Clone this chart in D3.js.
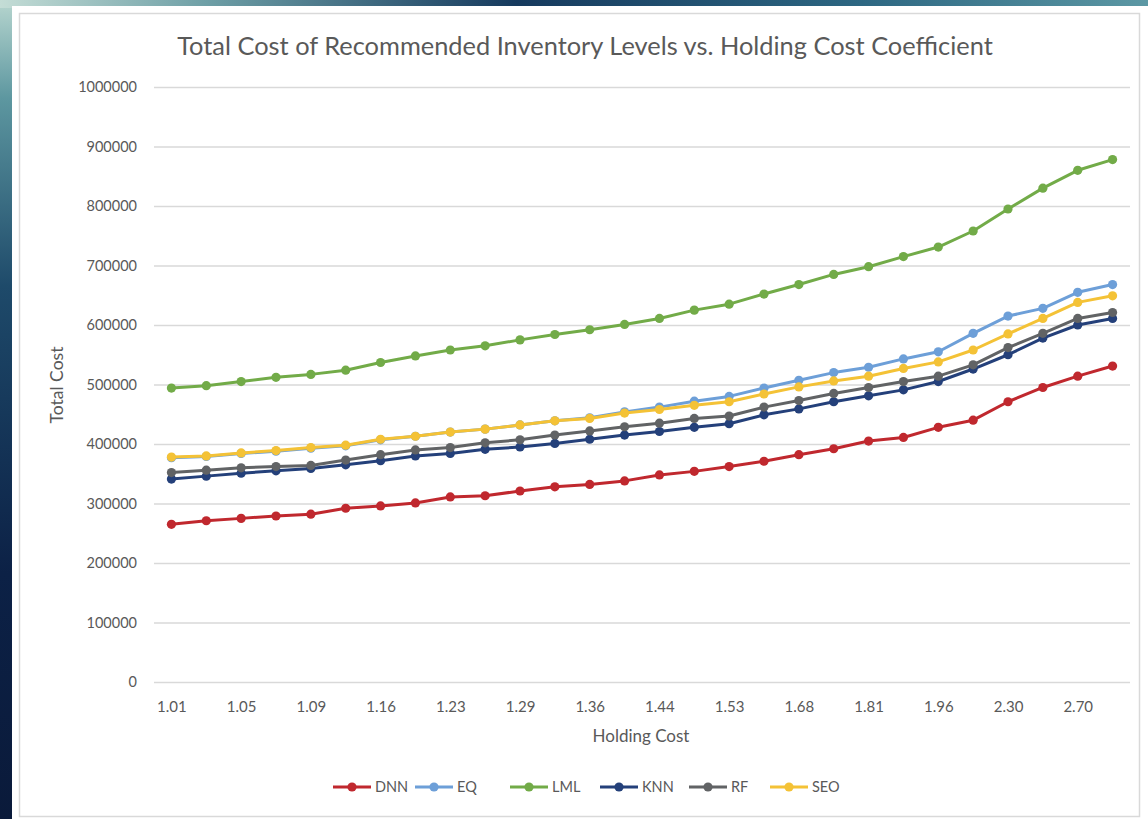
<!DOCTYPE html>
<html>
<head>
<meta charset="utf-8">
<script src="https://cdn.jsdelivr.net/npm/d3@7"></script>
<style>
  html, body { margin: 0; padding: 0; }
  body { width: 1148px; height: 819px; overflow: hidden; background: #0c1f3f; }
  svg { display: block; }
  text { font-family: Lato, "Open Sans", "Liberation Sans", sans-serif; fill: #595959; }
</style>
</head>
<body>
<svg id="chart" width="1148" height="819"></svg>
<script>
// Holding cost coefficients (x categories); only every other one is labelled
const categories = ["1.01","1.03","1.05","1.07","1.09","1.12","1.16","1.19","1.23","1.26",
                    "1.29","1.32","1.36","1.40","1.44","1.48","1.53","1.60","1.68","1.74",
                    "1.81","1.88","1.96","2.11","2.30","2.49","2.70","2.92"];

// Total cost per model
const dnn = [265000,271000,275000,279000,282000,292000,296000,301000,311000,313000,
             321000,328000,332000,338000,348000,354000,362000,371000,382000,392000,
             405000,411000,428000,440000,471000,495000,514000,531000];
const eq  = [377000,379000,384000,388000,393000,397000,407000,413000,420000,425000,
             432000,439000,444000,454000,462000,472000,480000,494000,507000,520000,
             529000,543000,555000,586000,615000,628000,655000,668000];
const lml = [494000,498000,505000,512000,517000,524000,537000,548000,558000,565000,
             575000,584000,592000,601000,611000,625000,635000,652000,668000,685000,
             698000,715000,731000,758000,795000,830000,860000,878000];
const knn = [341000,346000,351000,355000,359000,365000,372000,380000,384000,391000,
             395000,401000,408000,415000,421000,428000,434000,449000,459000,471000,
             481000,491000,505000,526000,550000,578000,600000,611000];
const rf  = [352000,356000,360000,362000,364000,373000,382000,390000,394000,402000,
             407000,415000,422000,429000,435000,443000,447000,462000,473000,485000,
             495000,505000,514000,533000,562000,586000,611000,621000];
const seo = [378000,380000,385000,389000,394000,398000,408000,413000,420000,425000,
             432000,439000,443000,452000,458000,465000,471000,484000,496000,506000,
             514000,527000,538000,558000,585000,611000,638000,649000];

const seriesNames = ["DNN","EQ","LML","KNN","RF","SEO"];
const seriesValues = [dnn, eq, lml, knn, rf, seo];
const yTicks = [0,100000,200000,300000,400000,500000,600000,700000,800000,900000,1000000];

const colors = {
  DNN: "#c0282e", EQ: "#6d9fd8", LML: "#72ab48",
  KNN: "#24407a", RF: "#616365", SEO: "#f4c236"
};

const svg = d3.select("#chart");
const defs = svg.append("defs");

// ---- slide backdrop behind the chart panel ----
const gV = defs.append("linearGradient").attr("id","bgV").attr("x1",0).attr("y1",0).attr("x2",0).attr("y2",1);
gV.append("stop").attr("offset","0%").attr("stop-color","#b7d6cf");
gV.append("stop").attr("offset","12%").attr("stop-color","#5d97a0");
gV.append("stop").attr("offset","35%").attr("stop-color","#1e4a6a");
gV.append("stop").attr("offset","70%").attr("stop-color","#0c2146");
gV.append("stop").attr("offset","100%").attr("stop-color","#0a1a3a");
const gH = defs.append("linearGradient").attr("id","bgH").attr("x1",0).attr("y1",0).attr("x2",1).attr("y2",0);
gH.append("stop").attr("offset","0%").attr("stop-color","#c4ddd6");
gH.append("stop").attr("offset","18%").attr("stop-color","#6e9fa6");
gH.append("stop").attr("offset","45%").attr("stop-color","#163a5e");
gH.append("stop").attr("offset","75%").attr("stop-color","#2d6782");
gH.append("stop").attr("offset","100%").attr("stop-color","#5c98a4");

svg.append("rect").attr("x",0).attr("y",0).attr("width",1148).attr("height",819).attr("fill","url(#bgV)");
svg.append("rect").attr("x",0).attr("y",0).attr("width",1148).attr("height",8).attr("fill","url(#bgH)");

// ---- chart panel ----
svg.append("rect").attr("x",12).attr("y",6).attr("width",1136).attr("height",813).attr("fill","#ffffff");
svg.append("rect").attr("x",19.5).attr("y",13.5).attr("width",1120).attr("height",803)
  .attr("fill","none").attr("stroke","#d9d9d9").attr("stroke-width",1.5);

// ---- scales ----
const plotLeft = 154, plotRight = 1130, plotTop = 87, plotBottom = 682;
const x = d3.scalePoint().domain(categories).range([plotLeft, plotRight]).padding(0.5);
const y = d3.scaleLinear().domain([0, 1000000]).range([plotBottom, plotTop]);

// ---- gridlines + y axis labels ----
const yAxis = d3.axisLeft(y).tickValues(yTicks).tickFormat(d3.format("d"))
  .tickSize(-(plotRight - plotLeft)).tickPadding(17);
const yG = svg.append("g").attr("transform", `translate(${plotLeft},0)`).call(yAxis);
yG.select(".domain").remove();
yG.selectAll(".tick line").attr("stroke","#d9d9d9").attr("stroke-width",1.5);
yG.selectAll(".tick text").attr("font-size",14.5).attr("fill","#595959")
  .style("font-family","Lato, sans-serif");

// ---- x axis labels ----
const xAxis = d3.axisBottom(x).tickValues(categories.filter((d, i) => i % 2 === 0))
  .tickSize(0).tickPadding(19);
const xG = svg.append("g").attr("transform", `translate(0,${plotBottom})`).call(xAxis);
xG.select(".domain").remove();
xG.selectAll(".tick text").attr("font-size",15).attr("fill","#595959")
  .style("font-family","Lato, sans-serif");

// ---- series ----
const line = d3.line().x((d, i) => x(categories[i])).y(d => y(d));
seriesNames.forEach((name, s) => {
  const g = svg.append("g").attr("class","series");
  g.append("path").datum(seriesValues[s]).attr("d", line)
    .attr("fill","none").attr("stroke", colors[name]).attr("stroke-width",3)
    .attr("stroke-linejoin","round");
  g.selectAll("circle").data(seriesValues[s]).join("circle")
    .attr("cx", (d, i) => x(categories[i])).attr("cy", d => y(d)).attr("r",4.6)
    .attr("fill", colors[name]);
});

// ---- titles ----
svg.append("text").attr("x",585).attr("y",55).attr("text-anchor","middle")
  .attr("font-size",25.4).text("Total Cost of Recommended Inventory Levels vs. Holding Cost Coefficient");
svg.append("text").attr("transform","translate(63,385) rotate(-90)").attr("text-anchor","middle")
  .attr("font-size",17.5).text("Total Cost");
svg.append("text").attr("x",641).attr("y",742).attr("text-anchor","middle")
  .attr("font-size",17).text("Holding Cost");

// ---- legend ----
const legendStarts = [333, 415, 510, 600, 689, 770];
const legend = svg.append("g").attr("transform","translate(0,787)");
seriesNames.forEach((name, i) => {
  const g = legend.append("g").attr("transform", `translate(${legendStarts[i]},0)`);
  g.append("line").attr("x1",0).attr("x2",38).attr("y1",0).attr("y2",0)
    .attr("stroke", colors[name]).attr("stroke-width",3);
  g.append("circle").attr("cx",19).attr("cy",0).attr("r",4.6).attr("fill", colors[name]);
  g.append("text").attr("x",42).attr("y",5).attr("font-size",14.5).text(name);
});
</script>
</body>
</html>
